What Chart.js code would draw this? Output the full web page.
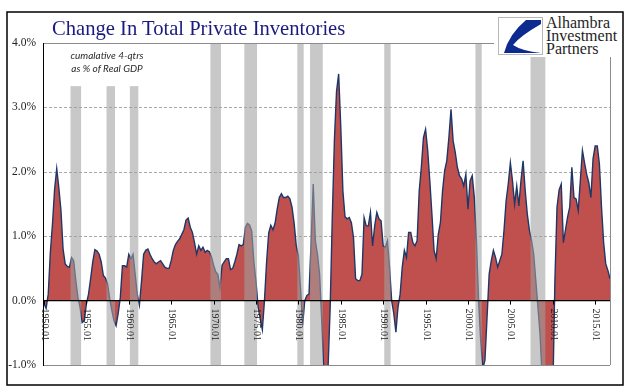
<!DOCTYPE html>
<html>
<head>
<meta charset="utf-8">
<script src="https://cdn.jsdelivr.net/npm/chart.js@4.4.1/dist/chart.umd.min.js"></script>
<style>
  html, body { margin: 0; padding: 0; background: #fff; }
  #wrap { position: relative; width: 641px; height: 392px; overflow: hidden; }
  #title { position: absolute; left: 52px; top: 18px; font: 20.6px/1 "Liberation Serif", serif; color: #1a1a80; white-space: nowrap; }
  #note { position: absolute; left: 57px; top: 49px; width: 100px; text-align: center; font: italic 10px/13px Lato, sans-serif; color: #2a2a2a; }
  #logo { position: absolute; left: 494px; top: 13px; width: 128px; height: 44px; background: #fff; }
  #logo svg { position: absolute; left: 4px; top: 4px; }
  #logo .name { position: absolute; left: 52px; top: 3px; font: 16px/13px "Liberation Serif", serif; color: #1e1e1e; white-space: nowrap; }
</style>
</head>
<body>
<div id="wrap">
  <canvas id="inv_chart" width="641" height="392"></canvas>
  <div id="title">Change In Total Private Inventories</div>
  <div id="note">cumalative 4-qtrs<br>as % of Real GDP</div>
  <div id="logo">
    <svg width="45" height="38" viewBox="0 0 45 38">
      <rect x="0.5" y="0.5" width="44" height="37" fill="#fff" stroke="#b8b8b8"/>
      <path d="M28 3 L43 3 L43 7 Q22 19 15 28 Q24 34 43 36 L6 36 Q11 17 28 3 Z" fill="#0d2a8f"/>
    </svg>
    <div class="name">Alhambra<br>Investment<br>Partners</div>
  </div>
</div>
<script>
// quarters 1950.01 .. 2016.04
const quarters = [];
for (let y = 1950; y <= 2016; y++) {
  for (let q = 1; q <= 4; q++) quarters.push(y + ".0" + q);
}

// change in inventories, cumulative 4 qtrs as % of real GDP
const inventories = [
  -0.05, -0.12, 0.1, 0.75, 1.19, 1.73, 2.05, 1.75, 1.4, 0.8, 0.57, 0.53, 0.52, 0.67, 0.62, 0.31, 0.05, -0.1, -0.34, -0.31,
  -0.05, 0.1, 0.34, 0.6, 0.79, 0.77, 0.72, 0.6, 0.39, 0.35, 0.26, 0.03, -0.15, -0.31, -0.39, -0.2, 0.05, 0.54, 0.54, 0.52,
  0.72, 0.65, 0.72, 0.41, 0.1, -0.07, 0.3, 0.72, 0.78, 0.8, 0.72, 0.65, 0.6, 0.57, 0.6, 0.62, 0.57, 0.52, 0.5, 0.5,
  0.62, 0.78, 0.87, 0.92, 0.96, 1.03, 1.1, 1.25, 1.28, 1.14, 1.06, 0.9, 0.72, 0.85, 0.78, 0.83, 0.75, 0.78, 0.76, 0.68,
  0.55, 0.45, 0.41, 0.2, 0.55, 0.6, 0.65, 0.65, 0.48, 0.5, 0.6, 0.72, 0.87, 0.85, 0.87, 1.14, 1.2, 1.17, 1.08, 0.6,
  0.3, -0.1, -0.28, -0.45, 0.0, 0.6, 1.05, 1.17, 1.1, 1.2, 1.42, 1.6, 1.66, 1.6, 1.6, 1.62, 1.58, 1.45, 1.2, 0.85,
  0.7, 0.2, -0.38, 0.0, 0.08, 0.1, 0.9, 1.81, 0.93, 0.72, 0.41, -0.3, -1.1, -1.4, -1.05, -0.1, 1.3, 2.5, 3.25, 3.52,
  2.7, 1.7, 1.3, 1.27, 1.29, 1.21, 0.98, 0.34, 0.31, 0.31, 0.41, 1.29, 1.16, 1.16, 1.37, 0.85, 1.16, 1.37, 1.27, 1.24,
  0.85, 0.83, 0.93, 0.52, 0.0, -0.2, -0.49, -0.1, 0.1, 0.52, 0.78, 0.67, 1.06, 1.06, 0.9, 0.85, 0.93, 1.7, 2.07, 2.53,
  2.66, 2.33, 1.86, 1.34, 0.78, 0.65, 1.03, 1.21, 1.7, 2.02, 2.17, 2.53, 2.97, 2.48, 2.3, 2.07, 1.94, 1.89, 1.78, 1.96,
  1.42, 1.86, 1.94, 1.6, 0.93, 0.0, -0.62, -1.05, -0.93, -0.26, 0.41, 0.62, 0.78, 0.67, 0.52, 0.62, 0.72, 1.09, 1.55, 1.81,
  2.14, 1.86, 1.5, 1.78, 1.47, 1.86, 2.17, 1.71, 1.34, 1.09, 0.93, 0.72, 0.31, -0.1, -0.52, -1.2, -1.5, -1.6, -1.6, -1.6,
  -1.5, 0.3, 1.45, 1.72, 1.81, 0.9, 1.1, 1.3, 1.45, 2.07, 1.6, 1.58, 1.4, 1.86, 2.33, 2.14, 1.96, 1.83, 1.6, 2.2,
  2.4, 2.4, 2.12, 1.45, 0.9, 0.57, 0.47, 0.34
];

// recession shading (first and last quarter, top of the bar in %)
const recessionStart = ["1953.02", "1957.03", "1960.02", "1969.04", "1973.04", "1980.01", "1981.03", "1990.02", "2001.01", "2007.03"];
const recessionEnd   = ["1954.02", "1958.02", "1961.01", "1970.04", "1975.01", "1980.03", "1982.04", "1990.04", "2001.03", "2009.01"];
const recessionTop   = [3.33, 3.33, 3.33, 4, 4, 4, 4, 4, 4, 4];

const yMin = -1, yMax = 4;
const dashedLevels = [1, 2, 3];

function hline(ctx, area, y, color, dash) {
  ctx.save();
  ctx.strokeStyle = color;
  ctx.lineWidth = 1;
  ctx.setLineDash(dash || []);
  ctx.beginPath();
  ctx.moveTo(area.left, Math.round(y) + 0.5);
  ctx.lineTo(area.right, Math.round(y) + 0.5);
  ctx.stroke();
  ctx.restore();
}

const decor = {
  id: "decor",
  beforeDatasetsDraw(chart) {
    const { ctx, chartArea: a, scales: { y } } = chart;
    dashedLevels.forEach((v) => hline(ctx, a, y.getPixelForValue(v), "#a8a8a8", [3, 2]));
  },
  afterDatasetsDraw(chart) {
    const { ctx, chartArea: a, scales: { x, y } } = chart;
    const step = x.getPixelForValue(1) - x.getPixelForValue(0);

    // recession bars over the area
    ctx.save();
    ctx.fillStyle = "rgba(160,160,160,0.58)";
    recessionStart.forEach((s, k) => {
      const x0 = x.getPixelForValue(quarters.indexOf(s)) - step / 2;
      const x1 = x.getPixelForValue(quarters.indexOf(recessionEnd[k])) + step / 2;
      const top = y.getPixelForValue(recessionTop[k]);
      ctx.fillRect(x0, top, x1 - x0, y.getPixelForValue(yMin) - top);
    });
    ctx.restore();

    // frame of the plot
    hline(ctx, a, y.getPixelForValue(yMax), "#8c8c8c");
    hline(ctx, a, y.getPixelForValue(yMin), "#8c8c8c");
    ctx.save();
    ctx.lineWidth = 1;
    ctx.strokeStyle = "#8c8c8c";
    ctx.beginPath();
    ctx.moveTo(Math.round(a.right) + 0.5, a.top);
    ctx.lineTo(Math.round(a.right) + 0.5, a.bottom);
    ctx.stroke();
    ctx.strokeStyle = "#000";
    ctx.beginPath();
    ctx.moveTo(Math.round(a.left) - 0.5, a.top);
    ctx.lineTo(Math.round(a.left) - 0.5, a.bottom + 1);
    ctx.stroke();
    ctx.restore();

    // zero axis with ticks and vertical year labels
    const y0 = y.getPixelForValue(0);
    ctx.save();
    ctx.strokeStyle = "#000";
    ctx.lineWidth = 1.3;
    ctx.beginPath();
    ctx.moveTo(a.left, y0);
    ctx.lineTo(a.right, y0);
    ctx.stroke();
    ctx.lineWidth = 1;
    ctx.fillStyle = "#222";
    ctx.font = '10px "Liberation Serif"';
    ctx.textAlign = "left";
    ctx.textBaseline = "middle";
    quarters.forEach((q, i) => {
      if (i % 20 !== 0) return;
      const px = Math.round(x.getPixelForValue(i)) + 0.5;
      ctx.beginPath();
      ctx.moveTo(px, y0);
      ctx.lineTo(px, y0 + 4);
      ctx.stroke();
      ctx.save();
      ctx.translate(px, y0 + 8);
      ctx.rotate(Math.PI / 2);
      ctx.fillText(q, 0, 0);
      ctx.restore();
    });
    ctx.restore();
  },
  afterDraw(chart) {
    const ctx = chart.ctx;
    ctx.save();
    ctx.strokeStyle = "#000";
    ctx.lineWidth = 1.5;
    ctx.strokeRect(7, 12, 616, 373);
    ctx.restore();
  }
};

const inv_ctx = document.getElementById("inv_chart");

const inv_chart = new Chart(inv_ctx, {
  type: "line",
  data: {
    labels: quarters,
    datasets: [
      {
        label: "Change In Total Private Inventories",
        data: inventories,
        borderColor: "#1f3767",
        borderWidth: 1.4,
        backgroundColor: "#c0504d",
        fill: "origin",
        pointRadius: 0,
        tension: 0,
      },
    ],
  },
  options: {
    responsive: false,
    animation: false,
    devicePixelRatio: 1,
    layout: { padding: { left: 0, top: 43, right: 31, bottom: 27 } },
    plugins: { legend: { display: false }, tooltip: { enabled: false } },
    scales: {
      x: { type: "category", display: false, offset: false },
      y: {
        min: yMin,
        max: yMax,
        grid: { display: false, drawTicks: false },
        border: { display: false },
        ticks: {
          stepSize: 1,
          padding: 8,
          color: "#222",
          font: { family: "Liberation Serif", size: 11.5 },
          callback: (v) => v.toFixed(1) + "%",
        },
        afterFit: (s) => { s.width = 44; },
      },
    },
  },
  plugins: [decor],
});
</script>
</body>
</html>
